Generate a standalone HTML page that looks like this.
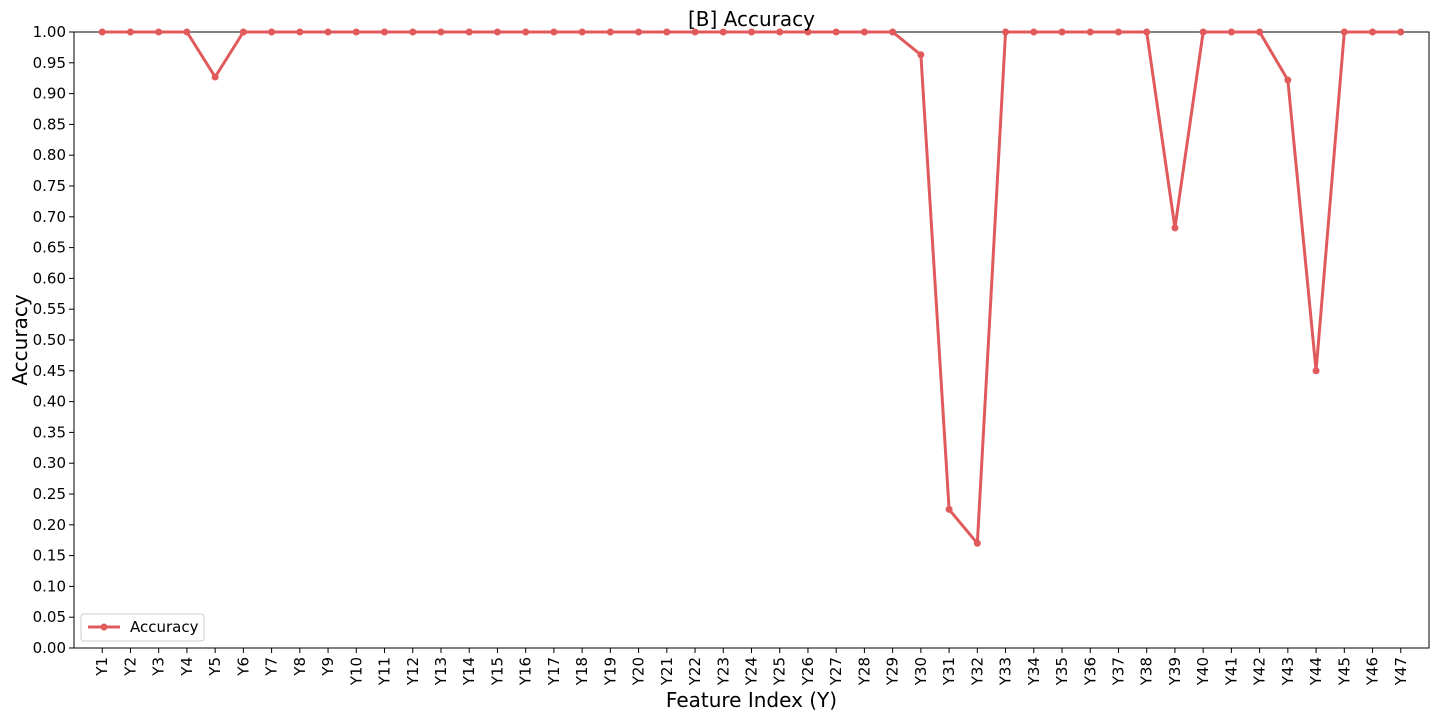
<!DOCTYPE html>
<html><head><meta charset="utf-8"><style>
body{margin:0;background:#fff;font-family:"Liberation Sans","DejaVu Sans",sans-serif}
svg text{font-family:"DejaVu Sans","Liberation Sans",sans-serif;fill:#000}
</style></head><body>
<svg id="chart" width="1440" height="720" xmlns="http://www.w3.org/2000/svg"></svg>
<script>
const categories = Array.from({length:47},(_,i)=>'Y'+(i+1));
const accuracyValues = [1,1,1,1,0.927,1,1,1,1,1,1,1,1,1,1,1,1,1,1,1,1,1,1,1,1,1,1,1,1,0.963,0.225,0.17,1,1,1,1,1,1,0.682,1,1,1,0.922,0.45,1,1,1];
const yTicks = [0,0.05,0.1,0.15,0.2,0.25,0.3,0.35,0.4,0.45,0.5,0.55,0.6,0.65,0.7,0.75,0.8,0.85,0.9,0.95,1.0];

const svg=document.getElementById('chart');
const NS='http://www.w3.org/2000/svg';
const L=74,R=1429,T=32,B=648;
const xs=i=>L+(i+1)*(R-L)/48;
const ys=v=>B-v*(B-T);
function mk(tag,attrs,parent){const e=document.createElementNS(NS,tag);for(const k in attrs)e.setAttribute(k,attrs[k]);(parent||svg).appendChild(e);return e;}

const frame=mk('rect',{x:L,y:T,width:R-L,height:B-T,fill:'none',stroke:'#000','stroke-width':1});



yTicks.forEach(v=>{
  const y=ys(v);
  const tk=mk('line',{x1:L-5,x2:L,y1:y,y2:y,stroke:'#000'});
  
  
  const t=mk('text',{x:L-8,y:y+5,'text-anchor':'end','font-size':15});
  t.textContent=v.toFixed(2);
  
  
});
categories.forEach((c,i)=>{
  const x=xs(i);
  const tk=mk('line',{x1:x,x2:x,y1:B,y2:B+5,stroke:'#000'});
  
  
  const t=mk('text',{x:0,y:0,'text-anchor':'end','font-size':15,transform:`translate(${x+5},${B+9}) rotate(-90)`});
  t.textContent=c;
  
  
});
const pts=accuracyValues.map((v,i)=>xs(i)+','+ys(v)).join(' ');
const line=mk('polyline',{points:pts,fill:'none',stroke:'#e05a5c','stroke-width':3,'stroke-linejoin':'round'});


accuracyValues.forEach((v,i)=>{
  const c=mk('circle',{cx:xs(i),cy:ys(v),r:3.5,fill:'#e05a5c'});
  
  
});
const title=mk('text',{x:(L+R)/2,y:26,'text-anchor':'middle','font-size':20});
title.textContent='[B] Accuracy';


const xl=mk('text',{x:(L+R)/2,y:707,'text-anchor':'middle','font-size':20});
xl.textContent='Feature Index (Y)';


const yl=mk('text',{x:0,y:0,'text-anchor':'middle','font-size':20,transform:`translate(27,${(T+B)/2}) rotate(-90)`});
yl.textContent='Accuracy';



const lg=mk('g',{});


mk('rect',{x:81,y:614,width:123,height:27,rx:3,fill:'#fff',stroke:'#ccc'},lg);
mk('line',{x1:88,x2:120,y1:627,y2:627,stroke:'#e05a5c','stroke-width':3},lg);
mk('circle',{cx:104,cy:627,r:3.5,fill:'#e05a5c'},lg);
const lt=mk('text',{x:130,y:632,'font-size':15},lg);
lt.textContent='Accuracy';


</script>
</body></html>
